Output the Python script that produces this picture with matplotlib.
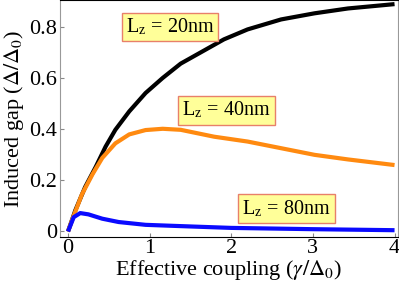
import matplotlib
matplotlib.use("Agg")
import numpy as np
import matplotlib.pyplot as plt

plt.rcParams['font.family'] = ['Liberation Serif', 'DejaVu Serif']
plt.rcParams['mathtext.fontset'] = 'stix'

# values
x_20 = [0, 0.09, 0.21, 0.34, 0.46, 0.58, 0.75, 0.95, 1.16, 1.38, 1.62, 1.91, 2.20, 2.61, 3.02, 3.43, 4.0]
y_20 = [0, 0.083, 0.174, 0.253, 0.332, 0.398, 0.47, 0.542, 0.601, 0.657, 0.70, 0.752, 0.791, 0.83, 0.854, 0.873, 0.89]

x_40 = [0, 0.05, 0.17, 0.30, 0.42, 0.58, 0.75, 0.95, 1.16, 1.38, 1.79, 2.20, 2.61, 3.02, 3.43, 4.0]
y_40 = [0, 0.045, 0.145, 0.224, 0.288, 0.345, 0.38, 0.397, 0.402, 0.398, 0.371, 0.352, 0.326, 0.30, 0.282, 0.26]

x_80 = [0, 0.07, 0.15, 0.25, 0.42, 0.62, 0.95, 1.38, 2.0, 3.0, 4.0]
y_80 = [0, 0.056, 0.072, 0.067, 0.05, 0.037, 0.026, 0.021, 0.014, 0.009, 0.005]

labels = ['20nm', '40nm', '80nm']
label_pos = [(1.25, 0.80), (1.94, 0.474), (2.675, 0.089)]
colors = ['black', '#ff8a10', '#0a0aff']

fig = plt.figure(figsize=(3.99, 2.83), dpi=100)
ax = fig.add_axes([0.150, 0.164, 0.847, 0.835])

for xs, ys, c in [(x_20, y_20, colors[0]), (x_40, y_40, colors[1]), (x_80, y_80, colors[2])]:
	ax.plot(xs, ys, color=c, lw=3, solid_capstyle='butt', solid_joinstyle='round')

for lab, (lx, ly) in zip(labels, label_pos):
	ax.text(lx, ly, r'L$_\mathregular{z}$ = ' + lab, fontsize=14.5, ha='center', va='center',
		bbox=dict(boxstyle='square,pad=0.2', fc='#ffff99', ec='#e8806a', lw=1))

ax.set_xlim(-0.1, 4.04)
ax.set_ylim(-0.02, 0.905)
ax.set_xticks([0, 1, 2, 3, 4])
ax.set_yticks([0, 0.2, 0.4, 0.6, 0.8])
ax.set_xticklabels(['0', '1', '2', '3', '4'])
ax.set_yticklabels(['0', '0.2', '0.4', '0.6', '0.8'])
ax.tick_params(direction='in', length=3, color='#888888', labelsize=16, pad=2)

ax.spines['left'].set_color('#999999')
ax.spines['right'].set_color('#999999')
ax.spines['top'].set_color('black')
ax.spines['bottom'].set_color('black')

ax.set_xlabel(r'Effective coupling ($\gamma/\Delta_0$)', fontsize=16, labelpad=0)
ax.set_ylabel(r'Induced gap ($\Delta/\Delta_0$)', fontsize=16, labelpad=2)

fig.savefig('out.png', dpi=100)
